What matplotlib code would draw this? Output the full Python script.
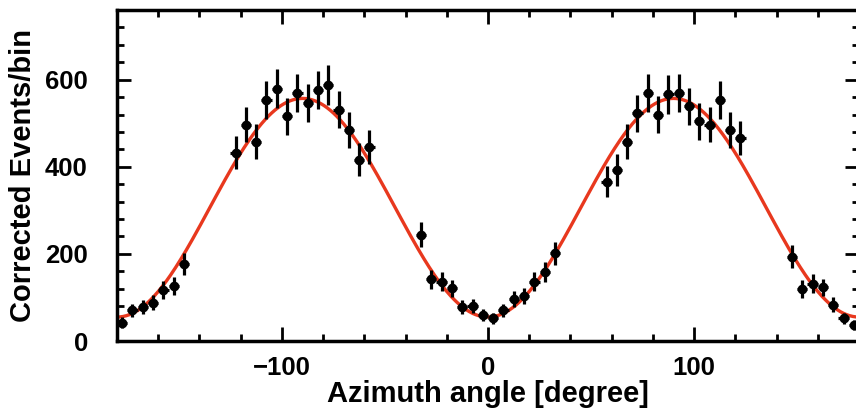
import numpy as np
import matplotlib
matplotlib.use("Agg")
import matplotlib.pyplot as plt
from matplotlib.ticker import MultipleLocator

# ---- data ----
angle = [-177.5, -172.5, -167.5, -162.5, -157.5, -152.5, -147.5,
         -122.5, -117.5, -112.5, -107.5, -102.5, -97.5, -92.5, -87.5, -82.5,
         -77.5, -72.5, -67.5, -62.5, -57.5,
         -32.5, -27.5, -22.5, -17.5, -12.5, -7.5, -2.5, 2.5, 7.5, 12.5, 17.5,
         22.5, 27.5, 32.5,
         57.5, 62.5, 67.5, 72.5, 77.5, 82.5, 87.5, 92.5, 97.5, 102.5, 107.5,
         112.5, 117.5, 122.5,
         147.5, 152.5, 157.5, 162.5, 167.5, 172.5, 177.5]
events = [42, 71, 79, 88, 117, 127, 176,
          432, 497, 458, 554, 579, 516, 569, 546, 577,
          588, 531, 485, 416, 445,
          244, 142, 136, 121, 79, 80, 60, 52, 71, 96, 103,
          136, 159, 201,
          366, 393, 458, 523, 569, 520, 566, 569, 539, 504, 497,
          554, 485, 466,
          194, 119, 132, 123, 83, 52, 37]
events_err = [12, 15, 16, 17, 20, 21, 25,
              38, 41, 40, 44, 45, 42, 44, 43, 44,
              45, 43, 41, 38, 39,
              29, 22, 22, 20, 16, 16, 14, 13, 15, 18, 19,
              22, 23, 26,
              35, 37, 40, 42, 44, 42, 44, 44, 43, 42, 41,
              44, 41, 40,
              26, 20, 21, 20, 17, 13, 12]
bin_half_width = 2.5

# cosine fit: A - B*cos(2*phi)
fit_offset = 306
fit_amplitude = 251

x_ticks = [-100, 0, 100]
y_ticks = [0, 200, 400, 600]

# ---- figure ----
plt.rcParams['font.family'] = ['Liberation Sans', 'DejaVu Sans']
fig = plt.figure(figsize=(8.56, 4.11), dpi=100)
ax = fig.add_axes([0.1367, 0.1703, 0.8668, 0.8054])

phi = np.linspace(-180, 180, 721)
fit_curve = fit_offset - fit_amplitude * np.cos(np.deg2rad(2 * phi))
ax.plot(phi, fit_curve, color='#e8381e', lw=2.4, zorder=2)

ax.errorbar(angle, events, yerr=events_err, xerr=bin_half_width,
            fmt='o', color='black', ms=6, elinewidth=2.3, capsize=0,
            zorder=3)

ax.set_xlim(-180, 180)
ax.set_ylim(0, 760)
ax.set_xticks(x_ticks)
ax.set_yticks(y_ticks)
ax.xaxis.set_minor_locator(MultipleLocator(20))
ax.yaxis.set_minor_locator(MultipleLocator(40))
ax.tick_params(which='both', direction='in', top=True, right=True, width=2)
ax.tick_params(which='major', length=10, labelsize=18.5)
ax.tick_params(axis='x', which='major', pad=11)
ax.tick_params(axis='y', which='major', pad=21)
ax.tick_params(which='minor', length=5)
for lab in ax.get_xticklabels() + ax.get_yticklabels():
    lab.set_fontweight('bold')
for s in ax.spines.values():
    s.set_linewidth(2.5)

ax.set_xlabel('Azimuth angle [degree]', fontsize=21, fontweight='bold',
              labelpad=0)
ax.set_ylabel('Corrected Events/bin', fontsize=21, fontweight='bold',
              labelpad=6)

fig.savefig('out.png', dpi=100)
